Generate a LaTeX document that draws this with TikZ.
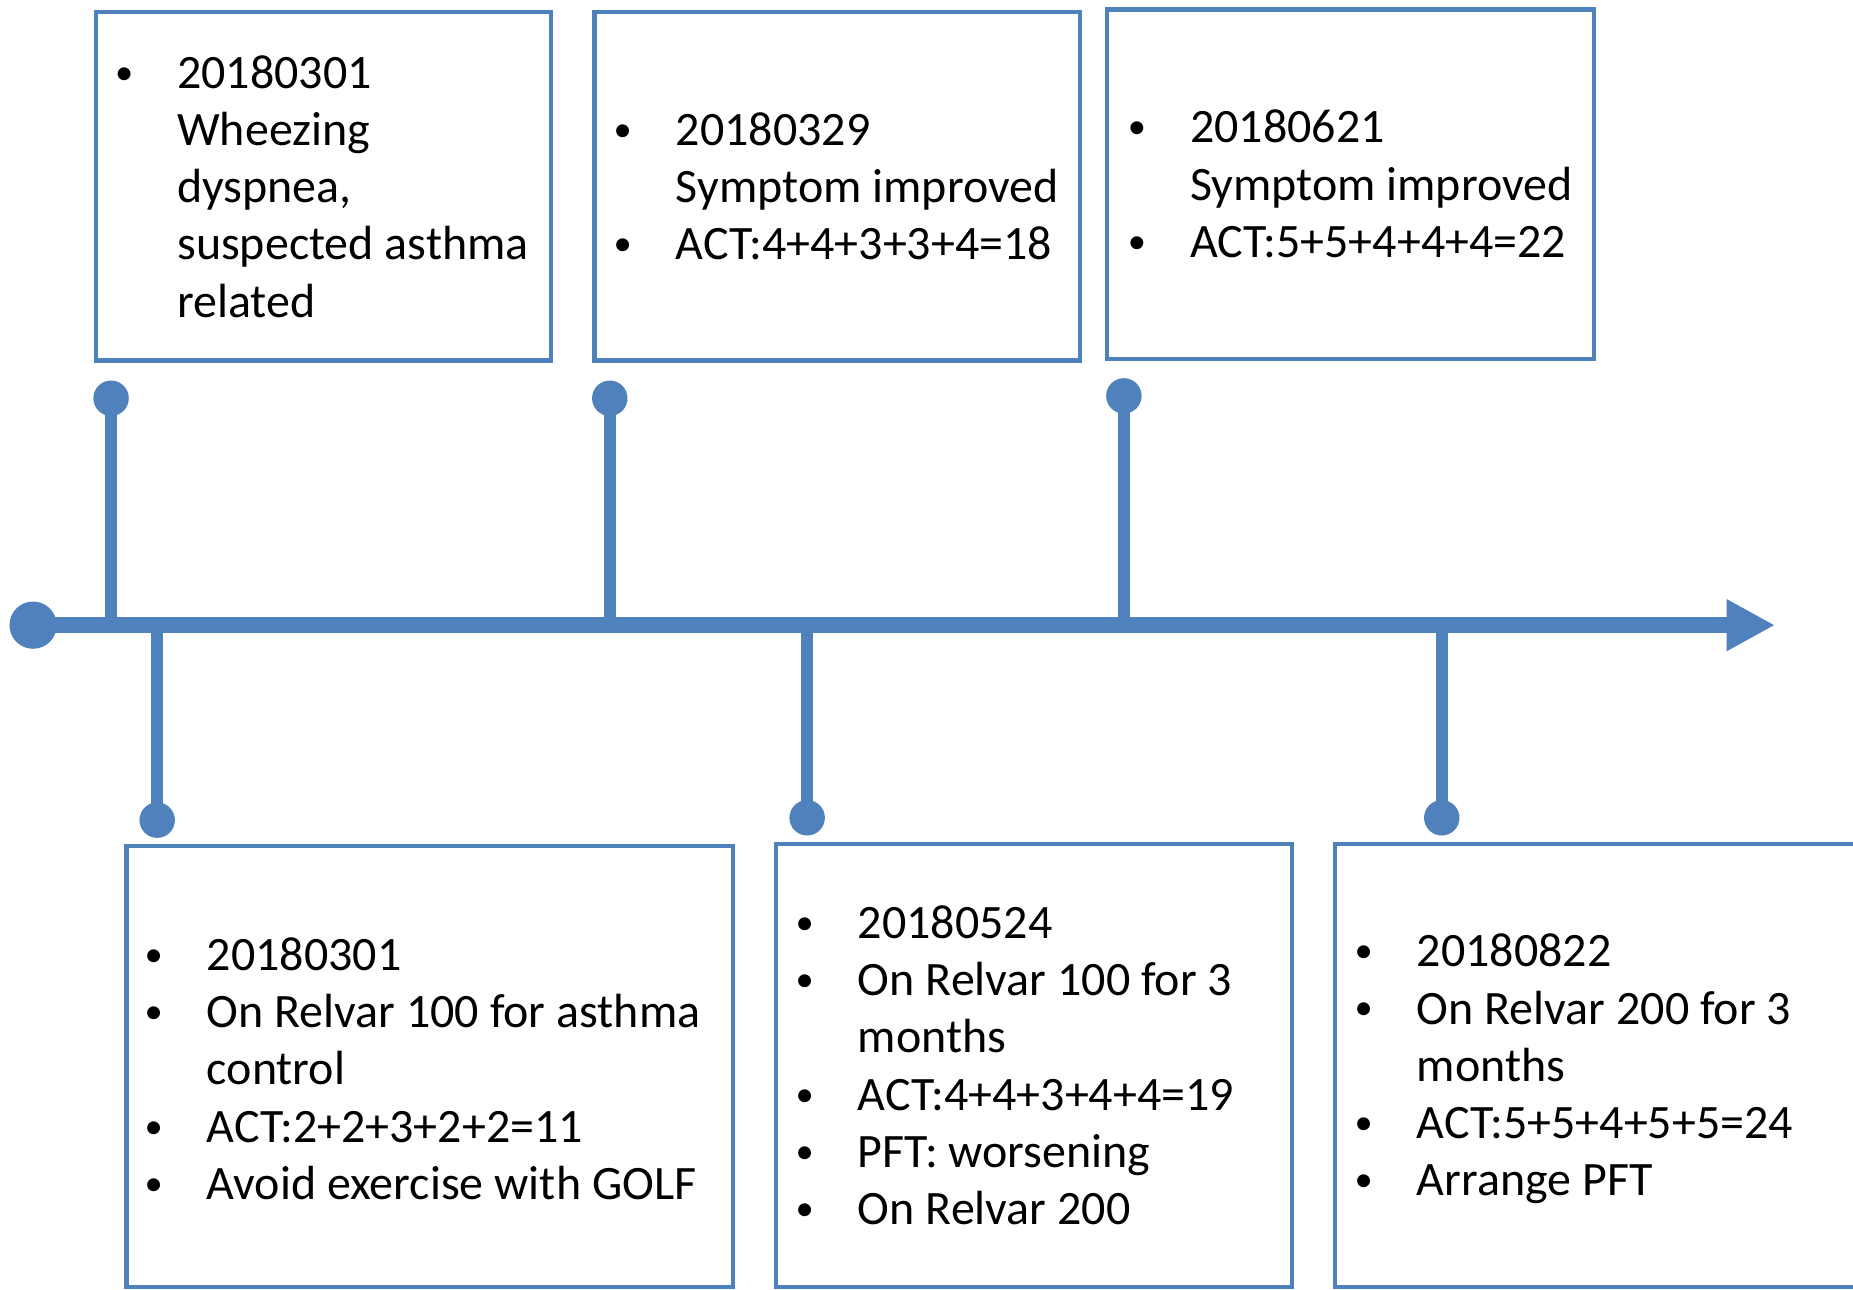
\documentclass[tikz,border=0pt]{standalone}
\usepackage{fontspec}
\setmainfont{Carlito}
\usetikzlibrary{arrows.meta}
\definecolor{tlblue}{HTML}{4F81BD}
\tikzset{
  box/.style={draw=tlblue, line width=1.75pt, inner sep=0pt, outer sep=0pt, anchor=north west},
  txt/.style={anchor=base west, inner sep=0pt, outer sep=0pt, font=\fontsize{20.3pt}{24.25pt}\selectfont},
  dot/.style={circle, fill=tlblue, inner sep=0pt, minimum size=15pt},
  bigdot/.style={circle, fill=tlblue, inner sep=0pt, minimum size=20pt},
  stem/.style={draw=tlblue, line width=5pt},
  axisline/.style={draw=tlblue, line width=6.75pt, -{Triangle[length=20.5pt,width=20.5pt]}},
}
\newcommand\blist[1]{\begin{tabular}[t]{@{}p{26pt}@{}l@{}}#1\end{tabular}}
\newcommand\bu{\hspace*{3.5pt}\makebox[0pt]{\raisebox{1.7pt}{\scalebox{0.76}{\textbullet}}}}
\begin{document}
\begin{tikzpicture}[x=0.5pt,y=-0.5pt]
\useasboundingbox (0,0) rectangle (1568,1091);
% boxes
\node[box, minimum width=192.5pt, minimum height=147.5pt] (t1) at (81,10) {};
\node[box, minimum width=205.5pt, minimum height=147.5pt] (t2) at (503,10) {};
\node[box, minimum width=206pt, minimum height=148pt] (t3) at (937,8) {};
\node[box, minimum width=256.5pt, minimum height=186.5pt] (b1) at (107,716) {};
\node[box, minimum width=218pt, minimum height=187.5pt] (b2) at (657,714) {};
\node[box, minimum width=240pt, minimum height=187.5pt] (b3) at (1130,714) {};
% texts
\node[txt] (t1txt) at (98,74.5) {\blist{\bu & 20180301\\ & Wheezing\\ & dyspnea,\\ & suspected asthma\\ & related}};
\node[txt] (t2txt) at (520,123) {\blist{\bu & 20180329\\ & Symptom improved\\ \bu & ACT:4+4+3+3+4=18}};
\node[txt] (t3txt) at (955,121) {\blist{\bu & 20180621\\ & Symptom improved\\ \bu & ACT:5+5+4+4+4=22}};
\node[txt] (b1txt) at (123,821) {\blist{\bu & 20180301\\ \bu & On Relvar 100 for asthma\\ & control\\ \bu & ACT:2+2+3+2+2=11\\ \bu & Avoid exercise with GOLF}};
\node[txt] (b2txt) at (674,794) {\blist{\bu & 20180524\\ \bu & On Relvar 100 for 3\\ & months\\ \bu & ACT:4+4+3+4+4=19\\ \bu & PFT: worsening\\ \bu & On Relvar 200}};
\node[txt] (b3txt) at (1147,818) {\blist{\bu & 20180822\\ \bu & On Relvar 200 for 3\\ & months\\ \bu & ACT:5+5+4+5+5=24\\ \bu & Arrange PFT}};
% timeline
\node[bigdot] (start) at (28,529) {};
\coordinate (tip) at (1502,529);
\coordinate (a1) at (94,529);
\coordinate (a2) at (516,529);
\coordinate (a3) at (951,529);
\coordinate (c1) at (133,529);
\coordinate (c2) at (683,529);
\coordinate (c3) at (1220,529);
\node[dot] (d1) at (94,337) {};
\node[dot] (d2) at (516,337) {};
\node[dot] (d3) at (951,335) {};
\node[dot] (e1) at (133,694) {};
\node[dot] (e2) at (683,692) {};
\node[dot] (e3) at (1220,692) {};
\draw[stem] (a1) -- (d1.center);
\draw[stem] (a2) -- (d2.center);
\draw[stem] (a3) -- (d3.center);
\draw[stem] (c1) -- (e1.center);
\draw[stem] (c2) -- (e2.center);
\draw[stem] (c3) -- (e3.center);
\draw[axisline] (start.center) -- (tip);
\end{tikzpicture}
\end{document}
